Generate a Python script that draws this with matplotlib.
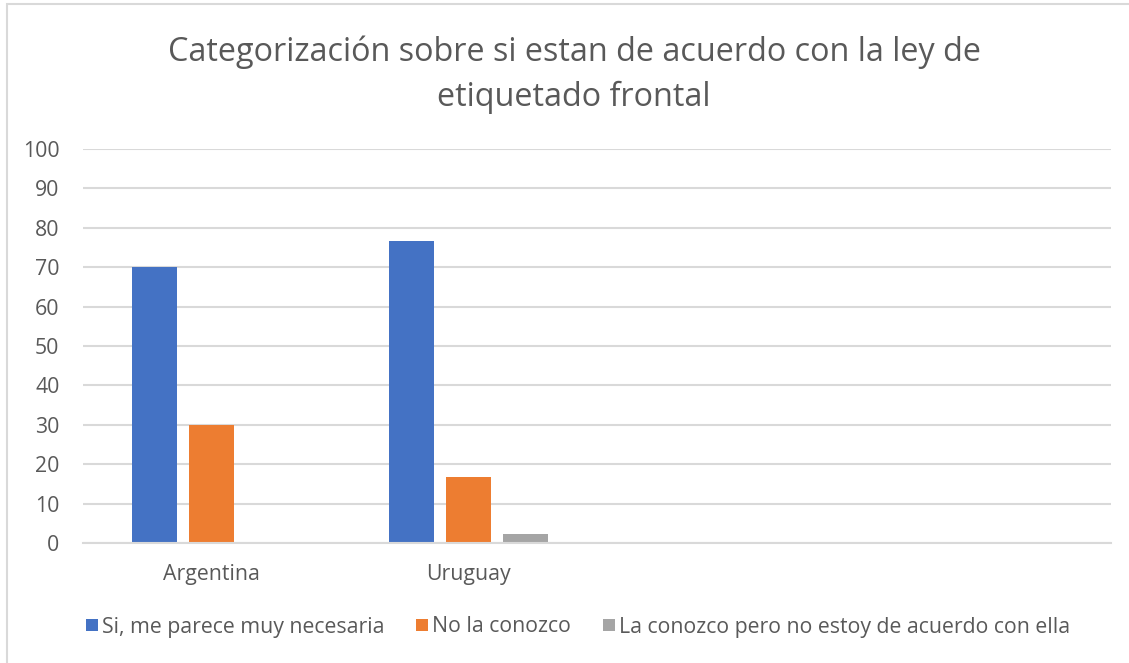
"""Bar chart: agreement with the front-of-package labelling law by country
"""

import matplotlib.pyplot as plt
from matplotlib.patches import Rectangle, Patch
import numpy as np

paises = ['Argentina', 'Uruguay', '', '']
series = ['Si, me parece muy necesaria', 'No la conozco',
          'La conozco pero no estoy de acuerdo con ella']
si_necesaria = [70, 76.7, 0, 0]
no_conozco = [30, 16.7, 0, 0]
no_de_acuerdo = [0, 2.2, 0, 0]
colores = ['#4472C4', '#ED7D31', '#A5A5A5']
titulo = 'Categorización sobre si estan de acuerdo con la ley de\netiquetado frontal'

TEXT_COLOR = '#595959'
GRID_COLOR = '#D9D9D9'
FONT_SIZE = 15.3
plt.rcParams['font.family'] = ['Open Sans', 'DejaVu Sans']

fig = plt.figure(figsize=(11.29, 6.63), dpi=100)
ax = fig.add_axes([83 / 1129, 120 / 663, 1028 / 1129, 394 / 663])

# chart area border
fig.patches.append(Rectangle((7 / 1129, -0.05), 1.1, (663 - 4) / 663 + 0.05,
                             transform=fig.transFigure, fill=False,
                             edgecolor=GRID_COLOR, linewidth=1.5))

x = np.arange(len(paises))
ancho = 0.175
paso = 0.222
for i, (valores, color) in enumerate(zip([si_necesaria, no_conozco, no_de_acuerdo], colores)):
    ax.bar(x + (i - 1) * paso, valores, width=ancho, color=color, zorder=3)

ax.set_xlim(-0.5, len(paises) - 0.5)
ax.set_ylim(0, 100)
ax.set_yticks(range(0, 101, 10))
ax.set_xticks(x)
ax.set_xticklabels(paises)
ax.yaxis.grid(True, color=GRID_COLOR, linewidth=1.5, zorder=0)
ax.xaxis.grid(False)
for lado in ['top', 'right', 'left']:
    ax.spines[lado].set_visible(False)
ax.spines['bottom'].set_color(GRID_COLOR)
ax.spines['bottom'].set_linewidth(1.5)
ax.spines['bottom'].set_zorder(4)
ax.tick_params(axis='both', length=0, labelsize=FONT_SIZE, labelcolor=TEXT_COLOR)
ax.tick_params(axis='y', pad=17)
ax.tick_params(axis='x', pad=15)

fig.text(574 / 1129, 1 - 75 / 663, titulo, ha='center', va='center',
         fontsize=23.3, color=TEXT_COLOR, linespacing=1.45)

handles = [Patch(facecolor=c, label=s) for c, s in zip(colores, series)]
fig.legend(handles=handles, loc='center', bbox_to_anchor=(578 / 1129, 1 - 627 / 663),
           ncol=3, frameon=False, fontsize=FONT_SIZE, labelcolor=TEXT_COLOR,
           handlelength=0.55, handleheight=0.55, handletextpad=0.2, columnspacing=1.5)

fig.savefig('out.png', dpi=100)
